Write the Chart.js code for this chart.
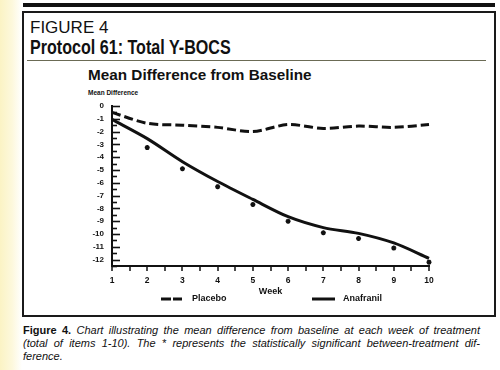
<!DOCTYPE html>
<html>
<head>
<meta charset="utf-8">
<script src="https://cdn.jsdelivr.net/npm/chart.js@4/dist/chart.umd.min.js"></script>
<style>
  html, body { margin: 0; padding: 0; }
  body {
    width: 500px; height: 370px; position: relative; overflow: hidden;
    background: linear-gradient(to right, #fbf3c4 0, #fdf8dc 12px, #fff 22px);
    font-family: "Liberation Sans", Arial, sans-serif; color: #111;
  }
  #chart { position: absolute; left: 0; top: 0; }
  .bar { position: absolute; left: 23px; top: 3px; width: 472px; height: 4px; background: #111; }
  .box { position: absolute; left: 22px; top: 11px; width: 474px; height: 306px; box-sizing: border-box; border: 2px solid #1a1a1a; }
  .rule { position: absolute; left: 27px; top: 60px; width: 459px; height: 1px; background: #6b6b55; }
  .t { position: absolute; white-space: nowrap; line-height: 1; transform-origin: 0 0; }
  .fig { left: 30px; top: 19px; font-size: 17px; }
  .proto { left: 30px; top: 36.6px; font-size: 20.5px; font-weight: bold; }
  .sub { left: 88px; top: 67px; font-size: 15.5px; font-weight: bold; }
  .ylab { left: 88px; top: 89.5px; font-size: 6.5px; font-weight: bold; }
  .cap { position: absolute; left: 23px; white-space: nowrap; font-size: 11px; line-height: 12.6px; }
  .cap i { font-style: italic; }
</style>
</head>
<body>
<div class="bar"></div>
<div class="box"></div>
<div class="rule"></div>
<div class="t fig">FIGURE 4</div>
<div class="t proto" data-w="201">Protocol 61: Total Y-BOCS</div>
<div class="t sub" data-w="224">Mean Difference from Baseline</div>
<div class="t ylab">Mean Difference</div>
<div class="cap" style="top:324.4px" data-w="457"><span><b>Figure 4.</b> <i>Chart illustrating the mean difference from baseline at each week of treatment</i></span></div>
<div class="cap" style="top:337px" data-w="457"><span><i>(total of items 1-10). The * represents the statistically significant between-treatment dif-</i></span></div>
<div class="cap" style="top:349.6px"><span><i>ference.</i></span></div>
<canvas id="chart" width="500" height="370"></canvas>
<script>
// Values (week 1..10, mean change in total Y-BOCS).
const weeks = [1, 2, 3, 4, 5, 6, 7, 8, 9, 10]
const placebo = [-0.5, -1.35, -1.5, -1.67, -2.0, -1.45, -1.75, -1.57, -1.67, -1.45]
const anafranil = [-1.05, -2.55, -4.35, -5.9, -7.3, -8.65, -9.5, -9.95, -10.7, -11.9]
// "*" marks: statistically significant between-treatment difference
const significant = [null, -3.25, -4.9, -6.3, -7.7, -9.0, -9.9, -10.35, -11.1, -12.2]
const yTicks = [0, -1, -2, -3, -4, -5, -6, -7, -8, -9, -10, -11, -12]
const xTicks = weeks
const seriesNames = ["Placebo", "Anafranil"]

const INK = "#111"
const FONT_FAMILY = "'Liberation Sans', Arial, sans-serif"

// squeeze headings to their printed widths
document.querySelectorAll(".t[data-w]").forEach((el) => {
  el.style.transform = "scaleX(" + (+el.dataset.w / el.scrollWidth) + ")"
})

// justify caption lines by stretching word spacing (or squeeze if too long)
document.querySelectorAll(".cap[data-w]").forEach((line) => {
  const span = line.querySelector("span")
  const target = +line.dataset.w
  const w = span.getBoundingClientRect().width
  if (w > target) {
    span.style.display = "inline-block"
    span.style.transformOrigin = "0 0"
    span.style.transform = "scaleX(" + (target / w) + ")"
  } else {
    const gaps = span.textContent.split(" ").length - 1
    span.style.wordSpacing = ((target - w) / gaps) + "px"
  }
})

const toPoints = (ys) => weeks.map((w, i) => ({ x: w, y: ys[i] })).filter((p) => p.y !== null)

// Tick dashes drawn inside the plot on y, hanging below on x, plus the printed legend.
const marksPlugin = {
  id: "printedMarks",
  afterDraw(chart) {
    const { ctx, chartArea, scales } = chart
    ctx.save()
    ctx.strokeStyle = INK
    ctx.lineCap = "butt"
    // y ticks: long at whole numbers, short at halves
    yTicks.forEach((v) => {
      [v, v - 0.5].forEach((t, k) => {
        if (t < scales.y.min) return
        const py = Math.round(scales.y.getPixelForValue(t)) + 0.5
        ctx.lineWidth = 1.6
        ctx.beginPath()
        ctx.moveTo(chartArea.left, py)
        ctx.lineTo(chartArea.left + (k === 0 ? 8 : 5), py)
        ctx.stroke()
      })
    })
    // x ticks every half week
    xTicks.forEach((v) => {
      [v, v + 0.5].forEach((t) => {
        if (t > scales.x.max) return
        const px = Math.round(scales.x.getPixelForValue(t))
        ctx.lineWidth = 1.5
        ctx.beginPath()
        ctx.moveTo(px, chartArea.bottom)
        ctx.lineTo(px, chartArea.bottom + 5)
        ctx.stroke()
      })
    })
    // legend
    const ly = 299
    ctx.lineWidth = 3
    ctx.setLineDash([10, 2])
    ctx.beginPath(); ctx.moveTo(161, ly); ctx.lineTo(182, ly); ctx.stroke()
    ctx.setLineDash([])
    ctx.beginPath(); ctx.moveTo(312, ly); ctx.lineTo(335, ly); ctx.stroke()
    ctx.fillStyle = INK
    ctx.font = "bold 9px " + FONT_FAMILY
    ctx.textBaseline = "middle"
    ctx.fillText(seriesNames[0], 192, ly)
    ctx.fillText(seriesNames[1], 343, ly)
    ctx.restore()
  }
}

new Chart(document.getElementById("chart"), {
  type: "line",
  plugins: [marksPlugin],
  data: {
    datasets: [
      {
        label: seriesNames[0],
        data: toPoints(placebo),
        borderColor: INK,
        borderWidth: 3,
        borderDash: [9, 4],
        tension: 0.3,
        pointRadius: 0,
        clip: false
      },
      {
        label: seriesNames[1],
        data: toPoints(anafranil),
        borderColor: INK,
        borderWidth: 3,
        tension: 0.3,
        pointRadius: 0,
        clip: false
      },
      {
        label: "*",
        data: toPoints(significant),
        showLine: false,
        pointStyle: "star",
        pointRadius: 2.5,
        borderWidth: 1.5,
        borderColor: INK,
        backgroundColor: INK,
        clip: false
      }
    ]
  },
  options: {
    responsive: false,
    animation: false,
    devicePixelRatio: 1,
    layout: { padding: { left: 72, right: 71, top: 106, bottom: 73 } },
    plugins: { legend: { display: false }, tooltip: { enabled: false } },
    scales: {
      x: {
        type: "linear",
        min: 1,
        max: 10,
        afterBuildTicks: (axis) => { axis.ticks = xTicks.map((v) => ({ value: v })) },
        afterFit: (axis) => { axis.height = 31 },
        grid: { drawOnChartArea: false, drawTicks: false },
        border: { display: true, color: INK, width: 2 },
        ticks: {
          color: INK, padding: 10, maxRotation: 0, autoSkip: false,
          font: { family: FONT_FAMILY, size: 8.5, weight: "bold" }
        },
        title: {
          display: true, text: "Week", color: INK, padding: 0,
          font: { family: FONT_FAMILY, size: 9, weight: "bold" }
        }
      },
      y: {
        min: -12.5,
        max: 0,
        afterBuildTicks: (axis) => { axis.ticks = yTicks.map((v) => ({ value: v })) },
        afterFit: (axis) => { axis.width = 40 },
        grid: { drawOnChartArea: false, drawTicks: false },
        border: { display: true, color: INK, width: 2 },
        ticks: {
          color: INK, padding: 8, autoSkip: false, callback: (v) => String(v),
          font: { family: FONT_FAMILY, size: 8, weight: "bold" }
        }
      }
    }
  }
})
</script>
</body>
</html>
